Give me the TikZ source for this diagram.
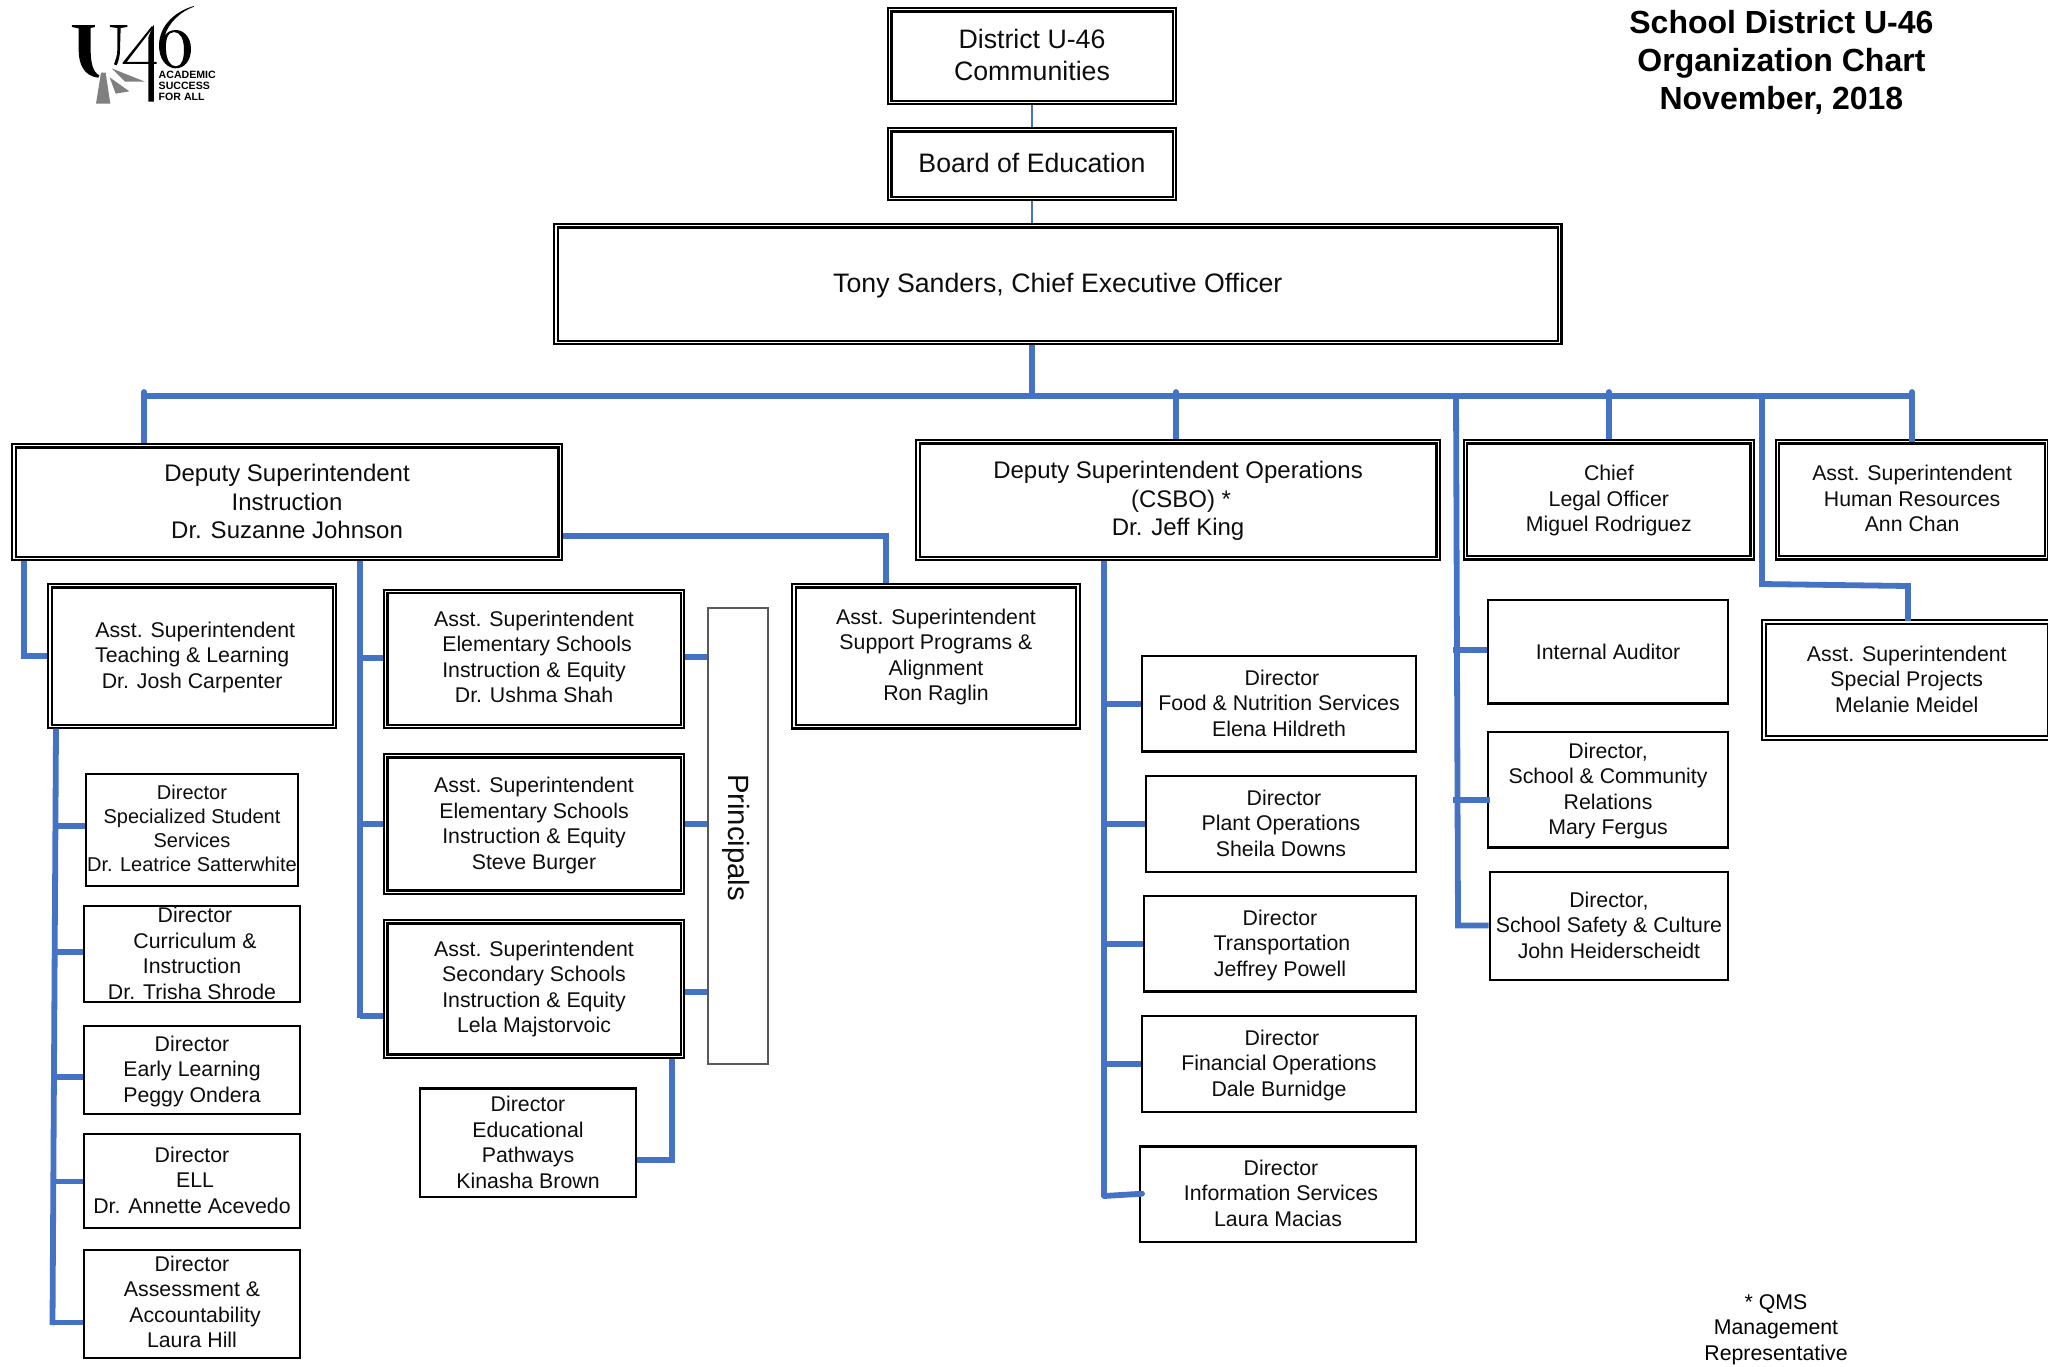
\documentclass[tikz,border=0pt]{standalone}
\usepackage{fontspec}
\setmainfont{Liberation Sans}
\definecolor{link}{HTML}{4472C4}
\tikzset{
  boxbase/.style={inner sep=0pt,text=black!95},
  dbl/.style={boxbase,draw=black,double=white,line width=2.2pt,double distance=1.4pt,outer sep=2.9pt},
  sgl/.style={boxbase,draw=black,line width=2.2pt,outer sep=1.1pt},
  grey box/.style={boxbase,draw=black!65,line width=2pt,outer sep=1pt},
  conn/.style={draw=link,line width=5.8pt,line join=miter},
  thinconn/.style={draw=link,line width=2.2pt},
  capstub/.style={draw=link,line width=5.8pt,line cap=round},
  free/.style={inner sep=0pt,text=black}
}
\newcommand\szS{\fontsize{21.3}{25.5}\selectfont}
\newcommand\szL{\fontsize{26.7}{32}\selectfont}
\newcommand\szM{\fontsize{24}{28.5}\selectfont}
\newcommand\tl[3]{\makebox[0pt]{\hspace*{#1pt}\hspace*{#1pt}\raisebox{\dimexpr#2pt-0.25em-2.6pt\relax}[0pt][0pt]{\begin{tabular}{@{}c@{}}#3\end{tabular}}}}
\newcommand\sh[2]{\makebox[0pt]{\hspace*{#1pt}\hspace*{#1pt}#2}}
\newcommand\dblb[6]{\node[dbl,minimum width={#4-#2-4.6},minimum height={#5-#3-4.6}] (#1) at ({(#2+#4)/2},{(#3+#5)/2}) {#6};}
\newcommand\sglb[6]{\node[sgl,minimum width={#4-#2-1.0},minimum height={#5-#3-1.0}] (#1) at ({(#2+#4)/2},{(#3+#5)/2}) {#6};}
\newcommand\branch[3]{\draw[conn] (#1 |- 0,#3) -- (#2.west |- 0,#3);}
\begin{document}
\begin{tikzpicture}[x=1pt,y=-1pt]
\useasboundingbox (0,0) rectangle (2048,1366);

% logo
\begin{scope}[x=0.3333pt,y=-0.3333pt]
\fill[black] (216,75) -- (285,75) -- (285,81) -- (272,84) -- (272,150) .. controls (272,190) and (280,218) .. (298,226) -- (295,233) .. controls (250,228) and (236,190) .. (236,150) -- (236,85) -- (216,81) -- cycle;
\fill[black] (330,75) -- (382,75) -- (382,81) -- (362,84) -- (360,150) .. controls (360,170) and (355,185) .. (350,196) -- (342,193) .. controls (348,175) and (352,165) .. (352,150) -- (352,84) -- (330,81) -- cycle;
\fill[black] (445,112) -- (460,76) -- (462,76) -- (462,305) -- (445,305) -- cycle;
\fill[black] (456,78) -- (460,82) -- (380,186) -- (470,186) -- (470,192) -- (368,192) -- (368,188) -- cycle;
\fill[black,even odd rule] (582,18) .. controls (520,35) and (470,85) .. (478,150) .. controls (482,185) and (505,205) .. (527,205) .. controls (555,205) and (573,180) .. (573,147) .. controls (573,110) and (550,90) .. (527,90) .. controls (512,90) and (500,97) .. (494,108) .. controls (505,70) and (540,35) .. (582,20) -- cycle
 (522,96) .. controls (503,96) and (496,120) .. (498,150) .. controls (500,180) and (510,199) .. (528,199) .. controls (545,199) and (553,175) .. (552,145) .. controls (551,115) and (540,96) .. (522,96) -- cycle;
\fill[black!50] (288,311) -- (331,311) -- (317,218) -- (303,218) -- cycle;
\fill[black!50] (329,232) -- (388,274) -- (347,281) -- cycle;
\fill[black!50] (335,205) -- (435,245) -- (375,245) -- cycle;
\end{scope}
\node[free,anchor=west,align=left,font=\fontsize{10.6}{10.7}\selectfont\bfseries] (logotext) at (158.5,86) {ACADEMIC\\SUCCESS\\FOR ALL};

% title and note
\node[free,align=center,font=\fontsize{32}{38}\selectfont\bfseries] (title) at (1781.4,62.6) {School District U-46\\Organization Chart\\November, 2018};
\node[free,align=center,font=\szS] (note) at (1776,1329.6) {* QMS\\Management\\Representative};

% top boxes
\dblb{comm}{887.3}{7.3}{1176.7}{104.7}{\szL\tl{0}{1}{District U-46\\Communities}}
\dblb{board}{887.3}{127.3}{1176.7}{200.7}{\szL\tl{0}{1.3}{Board of Education}}
\dblb{ceo}{553.6}{223.3}{1562}{344.7}{\szL\tl{0}{1.3}{Tony Sanders, Chief Executive Officer}}

% second row
\dblb{depi}{11.6}{443.3}{562.5}{560.7}{\szM\tl{0}{0}{Deputy Superintendent\\Instruction\\Dr. Suzanne Johnson}}
\dblb{depo}{915.6}{439.3}{1440.5}{560.7}{\szM\tl{0}{1}{Deputy Superintendent Operations\\\sh{3}{(CSBO) *}\\Dr. Jeff King}}
\dblb{chief}{1463.2}{439.3}{1754.5}{560}{\szS\tl{0}{1}{Chief\\Legal Officer\\Miguel Rodriguez}}
\dblb{hr}{1775.2}{439.3}{2049}{560}{\szS\tl{0}{1}{Asst. Superintendent\\Human Resources\\Ann Chan}}
\dblb{spec}{1761.6}{619.5}{2052}{740.3}{\szS\tl{0}{1}{Asst. Superintendent\\Special Projects\\Melanie Meidel}}

% instruction column 1
\dblb{teach}{47.7}{583.3}{336.7}{728.7}{\szS\tl{0}{1}{\sh{3}{Asst. Superintendent}\\Teaching \& Learning\\Dr. Josh Carpenter}}
\sglb{dsss}{85.7}{773.6}{298.3}{886.3}{\fontsize{20}{24}\selectfont\tl{0}{1.3}{Director\\Specialized Student\\Services\\Dr. Leatrice Satterwhite}}
\sglb{dci}{83.3}{905.6}{300.7}{1002.3}{\szS\tl{0}{0.7}{\sh{3}{Director}\\\sh{3}{Curriculum \&}\\Instruction\\Dr. Trisha Shrode}}
\sglb{del}{83.3}{1025.8}{300.7}{1114.2}{\szS\tl{0}{1.3}{Director\\Early Learning\\Peggy Ondera}}
\sglb{dell}{83.3}{1133.5}{300.7}{1228.2}{\szS\tl{0}{1}{Director\\\sh{3}{ELL}\\Dr. Annette Acevedo}}
\sglb{daa}{83.3}{1249.8}{300.7}{1358.6}{\szS\tl{0}{2.6}{Director\\Assessment \&\\\sh{3}{Accountability}\\Laura Hill}}

% instruction column 2
\dblb{esa}{383.3}{589.2}{684.7}{728.8}{\szS\tl{0}{2.3}{Asst. Superintendent\\\sh{3}{Elementary Schools}\\Instruction \& Equity\\Dr. Ushma Shah}}
\dblb{esb}{383.3}{753.3}{684.7}{894.5}{\szS\tl{0}{1}{Asst. Superintendent\\Elementary Schools\\Instruction \& Equity\\Steve Burger}}
\dblb{ssc}{383.3}{919.4}{684.7}{1058.6}{\szS\tl{0}{2.3}{Asst. Superintendent\\Secondary Schools\\Instruction \& Equity\\Lela Majstorvoic}}
\sglb{dep}{419.7}{1088}{636.3}{1197.8}{\szS\tl{0}{1}{Director\\Educational\\Pathways\\Kinasha Brown}}
\node[grey box,rotate=-90,minimum width=456,minimum height=59.8] (prin) at (738,836) {\fontsize{29.3}{34}\selectfont\tl{1.5}{1.3}{Principals}};

% support programs
\dblb{sup}{791.5}{583.3}{1080.4}{729}{\szS\tl{0}{1.5}{Asst. Superintendent\\Support Programs \&\\Alignment\\Ron Raglin}}

% operations column
\sglb{dfood}{1141.7}{655.7}{1416.3}{752}{\szS\tl{0}{1}{\sh{3}{Director}\\Food \& Nutrition Services\\Elena Hildreth}}
\sglb{dplant}{1145.7}{775.4}{1416.3}{872.3}{\szS\tl{0}{1}{\sh{3}{Director}\\Plant Operations\\Sheila Downs}}
\sglb{dtrans}{1143.7}{895.6}{1416.3}{992}{\szS\tl{0}{1}{Director\\\sh{2}{Transportation}\\Jeffrey Powell}}
\sglb{dfin}{1141.7}{1015.3}{1416.3}{1112.1}{\szS\tl{0}{1}{\sh{3}{Director}\\Financial Operations\\Dale Burnidge}}
\sglb{dinfo}{1139.7}{1145.9}{1416.3}{1242.3}{\szS\tl{0}{1}{\sh{3}{Director}\\\sh{3}{Information Services}\\Laura Macias}}

% legal column
\sglb{audit}{1487.6}{599.3}{1728.5}{704}{\szS\tl{0}{0}{Internal Auditor}}
\sglb{dscr}{1487.6}{731.4}{1728.5}{848}{\szS\tl{0}{1.3}{Director,\\School \& Community\\Relations\\Mary Fergus}}
\sglb{dsafe}{1489.3}{871.6}{1728.5}{980.2}{\szS\tl{0}{1}{Director,\\School Safety \& Culture\\John Heiderscheidt}}

% connector coordinates
\coordinate (busl) at (144,396);
\coordinate (busr) at (1912,396);
\coordinate (spinet) at (24,0);
\coordinate (spinea) at (55,0);
\coordinate (spinem) at (360,0);
\coordinate (spineo) at (1104,0);
\coordinate (spines) at (1762,0);
\coordinate (dropops) at (1176,0);
\coordinate (dropsup) at (886,0);
\coordinate (dropep) at (672,0);
\coordinate (specbend) at (1908,586);

% top links
\draw[thinconn] (comm.south) -- (board.north);
\draw[thinconn] (board.south) -- (board.south |- ceo.north);
\draw[conn] (board.south |- ceo.south) -- (board.south |- busl);
\draw[conn] (busl) -- (busr);

% drops from the bus
\draw[capstub] (busl |- 0,392) -- (busl);
\draw[capstub] (dropops |- 0,392) -- (dropops |- busl);
\draw[capstub] (chief.north |- 0,392) -- (chief.north |- busl);
\draw[capstub] (busr |- 0,392) -- (busr);
\draw[conn] (busl) -- (busl |- depi.north);
\draw[conn] (dropops |- busl) -- (dropops |- depo.north);
\draw[conn] (chief.north |- busl) -- (chief.north);
\draw[conn] (busr) -- (busr |- 0,442);

% deputy instruction
\draw[conn] (spinet |- depi.south) -- (spinet |- teach.west) -- (teach.west);
\draw[conn] (spinem |- depi.south) -- (spinem |- 0,1018.4);
\branch{spinem}{esa}{657.8}
\branch{spinem}{esb}{823.9}
\branch{spinem}{ssc}{1015.7}
\draw[conn] (depi.east |- 0,536) -- (dropsup |- 0,536) -- (dropsup |- sup.north);

% teaching spine
\draw[conn] (56,728.7) -- (52.5,1325);
\branch{spinea}{dsss}{825.8}
\branch{spinea}{dci}{952}
\branch{spinea}{del}{1077.3}
\branch{spinea}{dell}{1181.4}
\draw[conn] (50,1322.5) -- (daa.west |- 0,1322.5);

% principals links
\draw[conn] (esa.east |- 0,657) -- (prin.south |- 0,657);
\draw[conn] (esb.east |- 0,823.9) -- (prin.south |- 0,823.9);
\draw[conn] (ssc.east |- 0,992) -- (prin.south |- 0,992);

% educational pathways
\draw[conn] (dropep |- ssc.south) -- (dropep |- 0,1159.8) -- (dep.east |- 0,1159.8);

% operations spine
\draw[conn] (spineo |- depo.south) -- (spineo |- 0,1197.3);
\branch{spineo}{dfood}{703.9}
\branch{spineo}{dplant}{823.7}
\branch{spineo}{dtrans}{943.8}
\branch{spineo}{dfin}{1063.9}
\draw[conn,line cap=round] (spineo |- 0,1196) -- (1142,1193.7);

% legal spine
\draw[conn] (1456,396) -- (1458,925.4) -- (dsafe.west |- 0,925.4);
\draw[conn] (1453.3,649.8) -- (audit.west |- 0,649.8);
\draw[conn] (1453.3,800) -- (1490,800);

% special projects
\draw[conn] (spines |- busl) -- (spines |- 0,584) -- (specbend) -- (specbend |- 0,621);
\end{tikzpicture}
\end{document}
